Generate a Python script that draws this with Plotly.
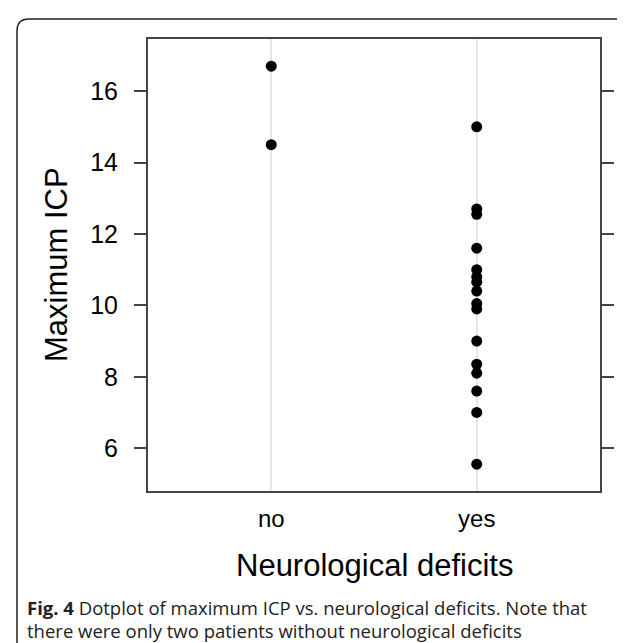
import plotly.graph_objects as go

# Data
categories = ["no", "yes"]
icp_no = [16.7, 14.5]
icp_yes = [15.0, 12.7, 12.55, 11.6, 11.0, 10.8, 10.65, 10.4, 10.05, 9.9,
           9.0, 8.35, 8.1, 7.6, 7.0, 5.55]
y_ticks = [6, 8, 10, 12, 14, 16]

W, H = 625, 643
L, R, T, B = 140, 33, 31, 160
pw, ph = W - L - R, H - T - B


def px(x):
    return (x - L) / pw


def py(y):
    return (H - B - y) / ph


fig = go.Figure()
fig.add_trace(go.Scatter(
    x=[categories[0]] * len(icp_no) + [categories[1]] * len(icp_yes),
    y=icp_no + icp_yes,
    mode="markers",
    marker=dict(color="black", size=11, line=dict(width=0)),
    showlegend=False,
    hoverinfo="x+y",
))

axis_color = "#444444"
fig.update_xaxes(
    type="category", categoryorder="array", categoryarray=categories,
    range=[-0.6, 1.6],
    showgrid=True, gridcolor="#e6e6e6", gridwidth=2,
    showline=True, linecolor=axis_color, linewidth=2, mirror=True,
    ticks="", tickfont=dict(size=24, color="black", family="Liberation Sans"),
    ticklabelstandoff=5,
    zeroline=False,
)
fig.update_yaxes(
    range=[4.8, 17.46],
    tickvals=y_ticks,
    showgrid=False, zeroline=False,
    showline=True, linecolor=axis_color, linewidth=2, mirror="ticks",
    ticks="outside", ticklen=12, tickwidth=2, tickcolor=axis_color,
    tickfont=dict(size=25, color="black", family="Liberation Sans"),
    ticklabelstandoff=11,
)

# Outer rounded frame
x0, x1 = px(9), px(640)
y0, y1 = py(11), py(646)
rx, ry = 12 / pw, 12 / ph
path = (f"M {x0},{y1 + ry} L {x0},{y0 - ry} Q {x0},{y0} {x0 + rx},{y0} "
        f"L {x1 - rx},{y0} Q {x1},{y0} {x1},{y0 - ry} L {x1},{y1 + ry} "
        f"Q {x1},{y1} {x1 - rx},{y1} L {x0 + rx},{y1} Q {x0},{y1} {x0},{y1 + ry} Z")
fig.add_shape(type="path", path=path, xref="paper", yref="paper",
              line=dict(color="#222222", width=1.5), layer="above")

annotations = [
    dict(text="Neurological deficits", x=px(366), y=py(557), xref="paper", yref="paper",
         showarrow=False, xanchor="center", yanchor="middle",
         font=dict(size=31, color="black", family="Liberation Sans")),
    dict(text="Maximum ICP", x=px(48), y=py(257), xref="paper", yref="paper",
         showarrow=False, xanchor="center", yanchor="middle", textangle=-90,
         font=dict(size=31, color="black", family="Liberation Sans")),
    dict(text="<b>Fig. 4</b> Dotplot of maximum ICP vs. neurological deficits. Note that",
         x=px(17), y=py(599), xref="paper", yref="paper",
         showarrow=False, xanchor="left", yanchor="middle",
         font=dict(size=18.5, color="#222222", family="Open Sans")),
    dict(text="there were only two patients without neurological deficits",
         x=px(17), y=py(622), xref="paper", yref="paper",
         showarrow=False, xanchor="left", yanchor="middle",
         font=dict(size=18.5, color="#222222", family="Open Sans")),
]

fig.update_layout(
    width=W, height=H,
    margin=dict(l=L, r=R, t=T, b=B, autoexpand=False),
    paper_bgcolor="white", plot_bgcolor="white",
    annotations=annotations,
)

fig.write_html("out.html")
